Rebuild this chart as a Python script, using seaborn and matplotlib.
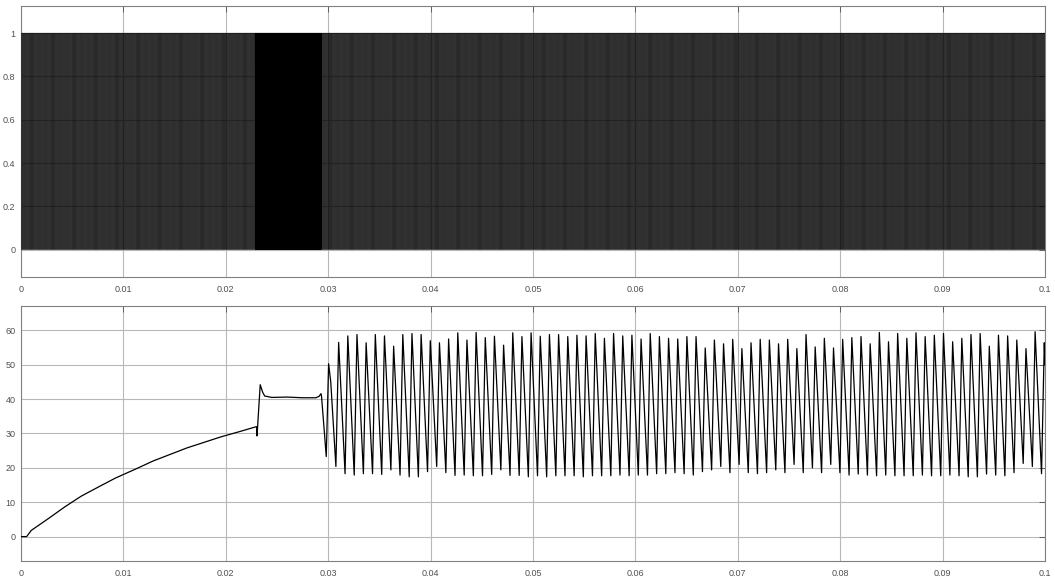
import numpy as np
import pandas as pd
import matplotlib
matplotlib.use("Agg")
import matplotlib.pyplot as plt
import seaborn as sns

# ---------------- data ----------------
# Top panel: switching (gate) signal, described per segment
pwm_seg_start = [0.0, 0.02287, 0.0293]
pwm_seg_end = [0.02287, 0.0293, 0.1]
pwm_freq = [10000.0, 60000.0, 10000.0]      # switching frequency in each segment
pwm_duty = [0.5, 0.5, 0.5]

# Bottom panel: start-up transient (time, value)
trans_t = [0.0, 0.00055, 0.0010, 0.0027, 0.0043, 0.0059, 0.0076, 0.0092, 0.0113,
           0.0129, 0.0162, 0.0195, 0.0214, 0.0230, 0.02305, 0.02336, 0.0236,
           0.0238, 0.0245, 0.0260, 0.0275, 0.0288, 0.0291, 0.0293, 0.02935,
           0.02981, 0.03004, 0.03025]
trans_v = [0.0, 0.0, 1.8, 5.3, 8.7, 11.8, 14.5, 17.0, 19.8,
           22.0, 25.8, 29.0, 30.6, 32.0, 29.3, 44.2, 42.0,
           40.9, 40.5, 40.6, 40.4, 40.4, 40.8, 41.6, 40.8,
           23.3, 50.3, 45.0]

# Oscillation: first / last peak times and peak / trough values, cycle by cycle
osc_first_peak_t = 0.03102
osc_last_peak_t = 0.09993
osc_end = (0.1, 50.0)
osc_peaks = [56.5, 58.4, 58.8, 56.4, 58.8, 58.4, 55.4, 58.8, 59.1, 58.8, 57.0, 56.4,
             57.5, 59.3, 57.2, 59.4, 57.9, 58.3, 55.7, 59.3,
             58.2, 59.3, 58.3, 58.8, 58.8, 58.2, 58.6, 58.4, 59.1, 57.7, 59.1, 58.4,
             58.6, 57.5, 59.1, 58.2, 57.7, 57.5, 58.2, 58.2, 54.9, 57.2, 56.1, 57.4,
             54.7, 56.4, 57.4, 57.2, 56.1, 57.4,
             54.7, 58.8, 55.2, 57.7, 54.9, 57.4, 57.9, 58.2, 56.1, 59.4, 56.7, 59.1,
             57.7, 59.3, 58.2, 58.6, 59.1, 56.7, 57.7, 58.8, 59.1, 55.4, 58.6, 58.4,
             57.2, 54.7, 59.6, 56.4]
osc_troughs = [20.4, 18.3, 17.9, 18.3, 18.3, 18.1, 19.4, 17.9, 17.4, 17.4, 18.9, 20.4,
               18.6, 17.8, 17.9, 17.7, 17.7, 18.1, 19.4, 17.8,
               17.8, 17.4, 17.7, 17.4, 17.7, 17.7, 17.7, 17.4, 17.7, 17.7, 17.7, 17.9,
               17.7, 17.9, 17.9, 18.3, 18.3, 18.6, 18.3, 17.9, 18.9, 19.4, 20.4, 18.6,
               21.0, 18.6, 18.3, 18.6, 19.4, 18.6,
               21.0, 18.6, 20.0, 18.6, 21.0, 18.6, 17.9, 18.2, 17.9, 17.7, 17.9, 17.7,
               17.7, 17.7, 17.9, 17.7, 17.7, 17.9, 17.7, 17.4, 17.4, 18.2, 17.9, 17.7,
               18.6, 21.3, 20.4, 18.3]
rise_fraction = 0.3   # trough precedes its peak by this fraction of a cycle

x_ticks = [0, 0.01, 0.02, 0.03, 0.04, 0.05, 0.06, 0.07, 0.08, 0.09, 0.1]
x_ticklabels = ["0", "0.01", "0.02", "0.03", "0.04", "0.05", "0.06", "0.07", "0.08", "0.09", "0.1"]
y1_ticks = [0, 0.2, 0.4, 0.6, 0.8, 1]
y1_ticklabels = ["0", "0.2", "0.4", "0.6", "0.8", "1"]
y2_ticks = [0, 10, 20, 30, 40, 50, 60]
y2_ticklabels = ["0", "10", "20", "30", "40", "50", "60"]

# ---------------- build series ----------------
pwm_t, pwm_v = [], []
for s, e, f, d in zip(pwm_seg_start, pwm_seg_end, pwm_freq, pwm_duty):
    starts = np.arange(s, e, 1.0 / f)
    for t0 in starts:
        pwm_t += [t0, t0 + d / f]
        pwm_v += [1.0, 0.0]
pwm_t.append(0.1)
pwm_v.append(0.0)
df_pwm = pd.DataFrame({"t": pwm_t, "v": pwm_v})

n = len(osc_peaks)
period = (osc_last_peak_t - osc_first_peak_t) / (n - 1)
wave_t = list(trans_t)
wave_v = list(trans_v)
for i in range(n):
    tp = osc_first_peak_t + i * period
    wave_t += [tp - rise_fraction * period, tp]
    wave_v += [osc_troughs[i], osc_peaks[i]]
wave_t.append(osc_end[0])
wave_v.append(osc_end[1])
df_wave = pd.DataFrame({"t": wave_t, "v": wave_v})

# ---------------- draw ----------------
sns.set_theme(style="white")
plt.rcParams["font.family"] = ["Liberation Sans", "DejaVu Sans"]

W, H = 1055, 581
fig = plt.figure(figsize=(W / 100, H / 100), dpi=100)
fig.patch.set_facecolor("white")
ax1 = fig.add_axes([21 / W, 1 - 276.7 / H, 1024 / W, (276.7 - 6) / H])
ax2 = fig.add_axes([21 / W, 1 - 561 / H, 1024 / W, (561 - 306) / H])

sns.lineplot(data=df_pwm, x="t", y="v", ax=ax1, estimator=None, sort=False,
             drawstyle="steps-post", color="black", linewidth=0.3, zorder=3)
sns.lineplot(data=df_wave, x="t", y="v", ax=ax2, estimator=None, sort=False,
             color="black", linewidth=0.9, zorder=3)

for ax, yt, ytl, ylim in [(ax1, y1_ticks, y1_ticklabels, (-0.125, 1.125)),
                          (ax2, y2_ticks, y2_ticklabels, (-7.1, 67.1))]:
    ax.set_xlim(0, 0.1)
    ax.set_ylim(*ylim)
    ax.set_xticks(x_ticks)
    ax.set_xticklabels(x_ticklabels)
    ax.set_yticks(yt)
    ax.set_yticklabels(ytl)
    ax.set_xlabel("")
    ax.set_ylabel("")
    ax.set_facecolor("white")
    ax.grid(True, color="#b8b8b8", linewidth=0.8, zorder=1)
    ax.set_axisbelow(True)
    ax.tick_params(axis="both", direction="in", length=4, width=0.7, color="#606060",
                   labelsize=6.5, labelcolor="#505050", top=True, right=True,
                   labeltop=False, labelright=False)
    ax.tick_params(axis="x", pad=6)
    ax.tick_params(axis="y", pad=4)
    for sp in ax.spines.values():
        sp.set_color("#808080")
        sp.set_linewidth(0.8)

fig.savefig("out.png", dpi=100, facecolor="white")
